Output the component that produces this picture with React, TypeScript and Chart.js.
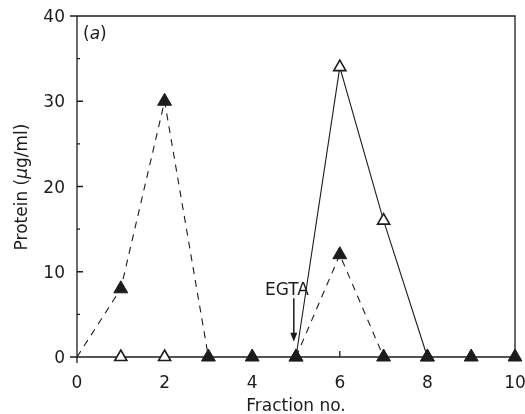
import React, { useEffect, useRef } from "react";
import { Chart, registerables } from "chart.js";
Chart.register(...registerables);

// ---- data ----
const fractions = [0, 1, 2, 3, 4, 5, 6, 7, 8, 9, 10];
const boundProtein = [0, 8, 30, 0, 0, 0, 12, 0, 0, 0, 0]; // filled triangles, dashed
const boundMarker = [false, true, true, true, true, true, true, true, true, true, true];
const elutedProtein = [null, 0, 0, null, null, 0, 34, 16, 0, null, null]; // open triangles, solid
const xTickValues = [0, 2, 4, 6, 8, 10];
const xMinorValues = [1, 3, 5, 7, 9];
const yTickValues = [0, 10, 20, 30, 40];
const yMinorValues = [5, 15, 25, 35];
const xMin = 0, xMax = 10, yMin = 0, yMax = 40;
const xAxisTitle = "Fraction no.";
const yTitleParts = ["Protein (", "\u03bc", "g/ml)"];
const panelLabel = "a";
const egtaLabel = "EGTA";
const egtaFraction = 4.95;
const egtaArrowTop = 6.9;
const egtaArrowBottom = 1.8;
const egtaTextFraction = 4.29;
const egtaTextLevel = 7.3;

const FONT = '"DejaVu Sans", sans-serif';
const INK = "#1c1c1c";
const FS = 17;

const framePlugin = {
  id: "frame",
  beforeDatasetsDraw(chart: any) {
    const { ctx, chartArea: a, scales } = chart;
    const xs = scales.x, ys = scales.y;
    ctx.save();
    ctx.strokeStyle = INK;
    ctx.lineWidth = 1.3;
    ctx.beginPath();
    ctx.moveTo(a.left - 7, a.top);
    ctx.lineTo(a.right, a.top);
    ctx.lineTo(a.right, a.bottom);
    ctx.lineTo(a.left - 7, a.bottom);
    ctx.moveTo(a.left, a.top);
    ctx.lineTo(a.left, a.bottom + 6);
    xTickValues.forEach((v) => {
      if (v === xMin || v === xMax) return;
      const px = xs.getPixelForValue(v);
      ctx.moveTo(px, a.bottom);
      ctx.lineTo(px, a.bottom - 6);
    });
    xMinorValues.forEach((v) => {
      const px = xs.getPixelForValue(v);
      ctx.moveTo(px, a.bottom);
      ctx.lineTo(px, a.bottom - 3);
    });
    yTickValues.forEach((v) => {
      if (v === yMin || v === yMax) return;
      const py = ys.getPixelForValue(v);
      ctx.moveTo(a.left, py);
      ctx.lineTo(a.left + 6, py);
    });
    yMinorValues.forEach((v) => {
      const py = ys.getPixelForValue(v);
      ctx.moveTo(a.left, py);
      ctx.lineTo(a.left + 3, py);
    });
    ctx.stroke();
    ctx.restore();
  },
  afterDraw(chart: any) {
    const { ctx, chartArea: a, scales } = chart;
    const xs = scales.x, ys = scales.y;
    ctx.save();
    ctx.fillStyle = INK;
    ctx.font = `${FS}px ${FONT}`;
    ctx.textBaseline = "alphabetic";
    // x tick labels
    ctx.textAlign = "center";
    xTickValues.forEach((v) => {
      ctx.fillText(String(v), xs.getPixelForValue(v), 388);
    });
    // y tick labels
    ctx.textAlign = "right";
    yTickValues.forEach((v) => {
      ctx.fillText(String(v), 65, ys.getPixelForValue(v) + 6);
    });
    // x title
    ctx.textAlign = "center";
    ctx.fillText(xAxisTitle, (a.left + a.right) / 2, 411);
    // y title (rotated, italic mu)
    ctx.save();
    ctx.translate(27, 187);
    ctx.rotate(-Math.PI / 2);
    ctx.textAlign = "left";
    const fonts = [`${FS}px ${FONT}`, `italic ${FS}px ${FONT}`, `${FS}px ${FONT}`];
    let total = 0;
    const widths = yTitleParts.map((t, i) => {
      ctx.font = fonts[i];
      const w = ctx.measureText(t).width;
      total += w;
      return w;
    });
    let cx = -total / 2;
    yTitleParts.forEach((t, i) => {
      ctx.font = fonts[i];
      ctx.fillText(t, cx, 0);
      cx += widths[i];
    });
    ctx.restore();
    // panel label (a)
    ctx.textAlign = "left";
    let px = a.left + 6;
    const py = a.top + 23;
    ctx.font = `${FS}px ${FONT}`;
    ctx.fillText("(", px, py);
    px += ctx.measureText("(").width;
    ctx.font = `italic ${FS}px ${FONT}`;
    ctx.fillText(panelLabel, px, py);
    px += ctx.measureText(panelLabel).width;
    ctx.font = `${FS}px ${FONT}`;
    ctx.fillText(")", px, py);
    // EGTA annotation
    ctx.fillText(egtaLabel, xs.getPixelForValue(egtaTextFraction), ys.getPixelForValue(egtaTextLevel));
    const ax = xs.getPixelForValue(egtaFraction);
    const ay0 = ys.getPixelForValue(egtaArrowTop);
    const ay1 = ys.getPixelForValue(egtaArrowBottom);
    ctx.strokeStyle = INK;
    ctx.lineWidth = 1.5;
    ctx.beginPath();
    ctx.moveTo(ax, ay0);
    ctx.lineTo(ax, ay1 - 6);
    ctx.stroke();
    ctx.beginPath();
    ctx.moveTo(ax - 3.5, ay1 - 9);
    ctx.lineTo(ax + 3.5, ay1 - 9);
    ctx.lineTo(ax, ay1);
    ctx.closePath();
    ctx.fill();
    ctx.restore();
  },
};

const hideFlat = (ctx: any) =>
  ctx.p0.parsed.y === 0 && ctx.p1.parsed.y === 0 ? "rgba(0,0,0,0)" : INK;

export default function App() {
  const ref = useRef<HTMLCanvasElement>(null);
  useEffect(() => {
    document.body.style.margin = "0";
    const chart = new Chart(ref.current as HTMLCanvasElement, {
      type: "line",
      data: {
        datasets: [
          {
            label: "bound",
            data: fractions.map((f, i) => ({ x: f, y: boundProtein[i] })),
            borderColor: INK,
            borderWidth: 1.1,
            borderDash: [7, 6],
            pointStyle: "triangle",
            pointRadius: (c: any) => (boundMarker[c.dataIndex] ? 8 : 0),
            pointBackgroundColor: INK,
            pointBorderColor: INK,
            pointBorderWidth: 1,
            segment: { borderColor: hideFlat },
            tension: 0,
            clip: false,
          } as any,
          {
            label: "eluted",
            data: fractions.map((f, i) => ({ x: f, y: elutedProtein[i] })),
            borderColor: INK,
            borderWidth: 1.1,
            pointStyle: "triangle",
            pointRadius: 7,
            pointBackgroundColor: "#ffffff",
            pointBorderColor: INK,
            pointBorderWidth: 1.6,
            segment: { borderColor: hideFlat },
            spanGaps: false,
            tension: 0,
            clip: false,
          } as any,
        ],
      },
      options: {
        animation: false,
        responsive: false,
        devicePixelRatio: 1,
        events: [],
        layout: { padding: { left: 77, top: 16, right: 10, bottom: 57 } },
        plugins: { legend: { display: false }, tooltip: { enabled: false } },
        scales: {
          x: { type: "linear", min: xMin, max: xMax, display: false },
          y: { type: "linear", min: yMin, max: yMax, display: false },
        },
      },
      plugins: [framePlugin],
    });
    return () => chart.destroy();
  }, []);
  return (
    <div style={{ width: 525, height: 414 }}>
      <canvas ref={ref} width={525} height={414} style={{ display: "block" }} />
    </div>
  );
}
